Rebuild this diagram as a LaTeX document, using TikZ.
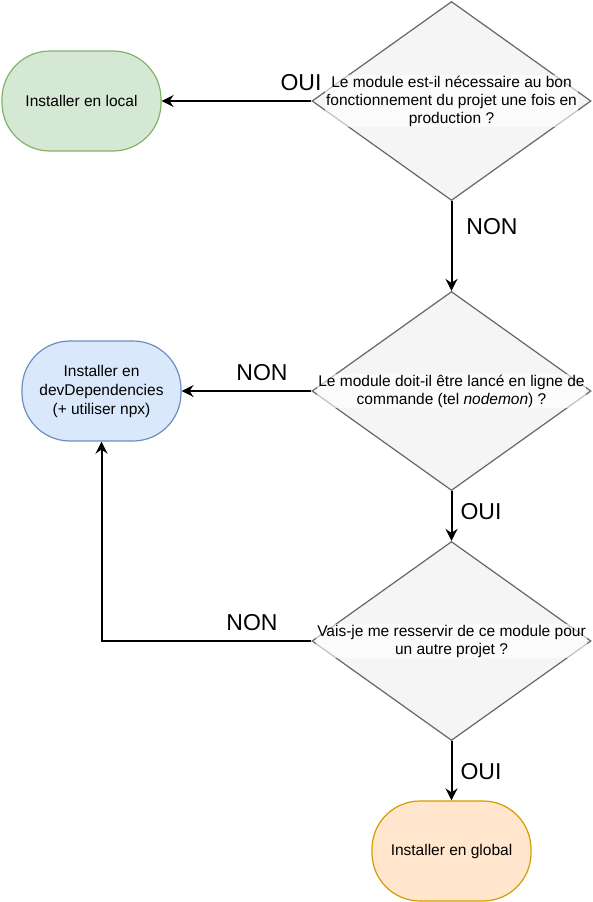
\documentclass[tikz,border=0pt]{standalone}
\usepackage{fontspec}
\setmainfont{Liberation Sans}
\usetikzlibrary{shapes.geometric,arrows.meta}

\definecolor{qfill}{HTML}{F5F5F5}
\definecolor{qdraw}{HTML}{666666}
\definecolor{greenfill}{HTML}{D5E8D4}
\definecolor{greendraw}{HTML}{82B366}
\definecolor{bluefill}{HTML}{DAE8FC}
\definecolor{bluedraw}{HTML}{6C8EBF}
\definecolor{orangefill}{HTML}{FFE6CC}
\definecolor{orangedraw}{HTML}{D79B00}

\tikzset{
    decision/.style={diamond, draw=qdraw, fill=qfill, line width=1.2pt, inner sep=0pt, minimum width=279pt, minimum height=199pt},
    qtext/.style={align=center, fill=white, fill opacity=0.6, text opacity=1, inner sep=1pt, font=\fontsize{15.5}{18}\selectfont},
    term/.style={rectangle, rounded corners=48pt, line width=1.2pt, minimum width=159pt, minimum height=100pt, align=center, font=\fontsize{15.5}{19}\selectfont},
    flow/.style={line width=2pt, -{Stealth[length=12pt, width=12pt, inset=4pt]}},
    answer/.style={font=\fontsize{23}{24}\selectfont}
}

\begin{document}
\begin{tikzpicture}[x=1pt, y=-1pt]
            \useasboundingbox (0, 0) rectangle (592, 902);

            \node[decision] (q1) at (451.5, 101) {};

            \node[qtext] (t1) at (q1) {Le module est-il nécessaire au bon\\fonctionnement du projet une fois en\\production ?};

            \node[decision] (q2) at (451.5, 391) {};

            \node[qtext] (t2) at (q2) {Le module doit-il être lancé en ligne de\\commande (tel \textit{nodemon}) ?};

            \node[decision] (q3) at (451.5, 641) {};

            \node[qtext] (t3) at (q3) {Vais-je me resservir de ce module pour\\un autre projet ?};

            \node[term, fill=greenfill, draw=greendraw] (local) at (81.5, 101) {Installer en local};

            \node[term, fill=bluefill, draw=bluedraw] (dev) at (101.5, 391) {Installer en\\devDependencies\\(+ utiliser npx)};

            \node[term, fill=orangefill, draw=orangedraw] (global) at (451.5, 851) {Installer en global};

            \draw[flow] (q1.west) -- (local.east);

            \draw[flow] (q1.south) -- (q2.north);

            \draw[flow] (q2.west) -- (dev.east);

            \draw[flow] (q2.south) -- (q3.north);

            \draw[flow] (q3.west) -| (dev.south);

            \draw[flow] (q3.south) -- (global.north);

            \node[answer] (oui1) at (301, 83) {OUI};

            \node[answer] (non1) at (492, 227) {NON};

            \node[answer] (non2) at (262, 373) {NON};

            \node[answer] (oui2) at (481, 512) {OUI};

            \node[answer] (non3) at (252, 623) {NON};

            \node[answer] (oui3) at (481, 772) {OUI};
\end{tikzpicture}
\end{document}
